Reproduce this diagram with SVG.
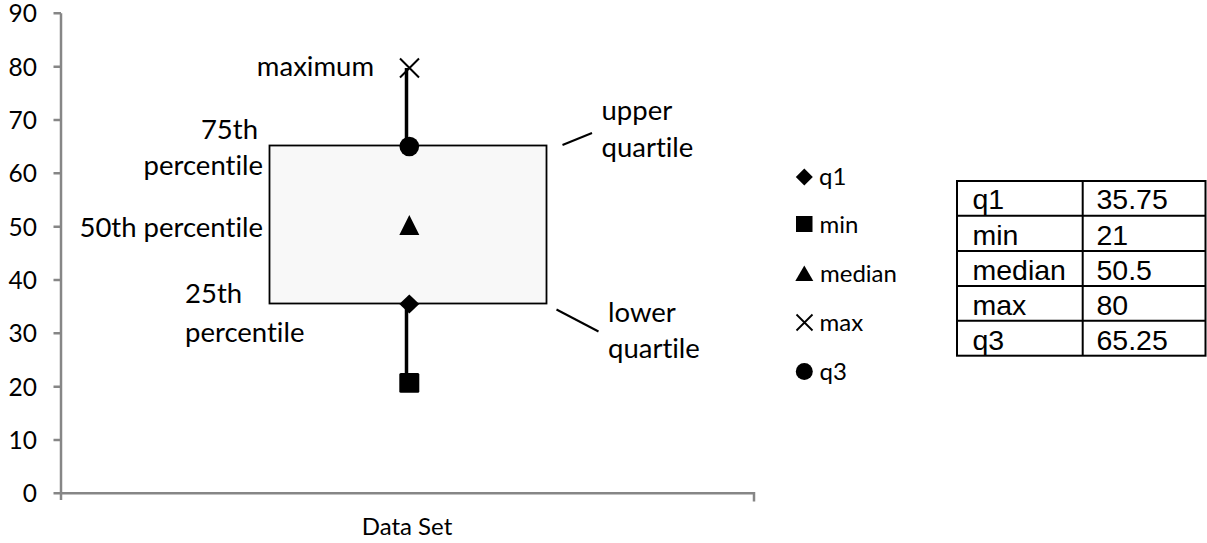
<svg xmlns="http://www.w3.org/2000/svg" width="1207" height="543" viewBox="0 0 1207 543">
<style>
text{font-variant-ligatures:none;font-feature-settings:"liga" 0}
.axis{stroke:#868686;stroke-width:2.5;fill:none}
.tick{font-family:Lato,"Liberation Sans",sans-serif;font-size:24.5px;fill:#000;text-anchor:end}
.ann{font-family:Lato,"Liberation Sans",sans-serif;font-size:27.5px;fill:#000}
.leg{font-family:Lato,"Liberation Sans",sans-serif;font-size:24px;fill:#000}
.tbl{font-family:"Liberation Sans",Arial,sans-serif;font-size:28.5px;fill:#000}
.ptr{stroke:#000;stroke-width:2;fill:none}
.whisk{stroke:#000;stroke-width:3.5;fill:none}
.grid{stroke:#000;stroke-width:2;fill:none}
</style>
<rect width="1207" height="543" fill="#fff"/>
<g id="axes">
<path class="axis" d="M61 13.3V500M53.5 13.3H61M53.5 66.7H61M53.5 120H61M53.5 173.3H61M53.5 226.7H61M53.5 280H61M53.5 333.3H61M53.5 386.7H61M53.5 440H61M53.5 493.3H61M61 493.3H754V501.5"/>
<text class="tick" x="37" y="22.3">90</text>
<text class="tick" x="37" y="75.7">80</text>
<text class="tick" x="37" y="129">70</text>
<text class="tick" x="37" y="182.3">60</text>
<text class="tick" x="37" y="235.7">50</text>
<text class="tick" x="37" y="289">40</text>
<text class="tick" x="37" y="342.3">30</text>
<text class="tick" x="37" y="395.7">20</text>
<text class="tick" x="37" y="449">10</text>
<text class="tick" x="37" y="502.3">0</text>
<text class="leg" x="407" y="535" text-anchor="middle">Data Set</text>
</g>
<g id="box">
<rect x="269.5" y="145.5" width="277" height="158" fill="#f8f8f8" stroke="#000" stroke-width="1.8"/>
</g>
<g id="connectors">
<line class="whisk" x1="406.5" y1="68" x2="406.5" y2="146"/>
<line class="whisk" x1="406.5" y1="304" x2="406.5" y2="382"/>
<line class="ptr" x1="562.5" y1="145" x2="592" y2="133"/>
<line class="ptr" x1="556.5" y1="309.5" x2="598.5" y2="331.5"/>
</g>
<g id="max-marker">
<path d="M400 58.5L419 77.5M400 77.5L419 58.5" stroke="#000" stroke-width="2" fill="none"/>
</g>
<g id="q3-marker"><circle cx="409.3" cy="146.5" r="9.8" fill="#000"/></g>
<g id="median-marker"><path d="M409.3 215L419.3 235H399.3Z" fill="#000"/></g>
<g id="q1-marker"><path d="M409.3 294.5L419.3 304L409.3 313.5L399.3 304Z" fill="#000"/></g>
<g id="min-marker"><rect x="399.3" y="373" width="20" height="19.7" rx="1.5" fill="#000"/></g>
<g id="labels">
<text class="ann" x="374" y="76" text-anchor="end">maximum</text>
<text class="ann" x="258" y="139" text-anchor="end">75th</text>
<text class="ann" x="263" y="175" text-anchor="end">percentile</text>
<text class="ann" x="263" y="237" text-anchor="end">50th percentile</text>
<text class="ann" x="185" y="303">25th</text>
<text class="ann" x="185" y="341.5">percentile</text>
<text class="ann" x="601.5" y="120">upper</text>
<text class="ann" x="601.5" y="156.5">quartile</text>
<text class="ann" x="608" y="321.5">lower</text>
<text class="ann" x="608" y="358">quartile</text>
</g>
<g id="legend">
<path d="M804.3 168.5L812.8 177L804.3 185.5L795.8 177Z" fill="#000"/>
<text class="leg" x="819" y="184.5">q1</text>
<rect x="796" y="216" width="16.5" height="16" fill="#000"/>
<text class="leg" x="819.5" y="233">min</text>
<path d="M804.3 265.5L813.3 281H795.3Z" fill="#000"/>
<text class="leg" x="820" y="282">median</text>
<path d="M796.5 314.5L812.5 330.5M796.5 330.5L812.5 314.5" stroke="#000" stroke-width="1.8" fill="none"/>
<text class="leg" x="819.5" y="330.5">max</text>
<circle cx="804.3" cy="371.5" r="8.5" fill="#000"/>
<text class="leg" x="819.5" y="379.5">q3</text>
</g>
<g id="table">
<rect x="957" y="181" width="248.5" height="174.7" class="grid"/>
<path class="grid" d="M1082.7 181V355.7M957 215.7H1205.5M957 251H1205.5M957 286H1205.5M957 320.7H1205.5"/>
<text class="tbl" x="972.5" y="209.3">q1</text>
<text class="tbl" x="1096.5" y="209.3">35.75</text>
<text class="tbl" x="972.5" y="245">min</text>
<text class="tbl" x="1096.5" y="245">21</text>
<text class="tbl" x="972.5" y="280">median</text>
<text class="tbl" x="1096.5" y="280">50.5</text>
<text class="tbl" x="972.5" y="315">max</text>
<text class="tbl" x="1096.5" y="315">80</text>
<text class="tbl" x="972.5" y="350">q3</text>
<text class="tbl" x="1096.5" y="350">65.25</text>
</g>
</svg>
